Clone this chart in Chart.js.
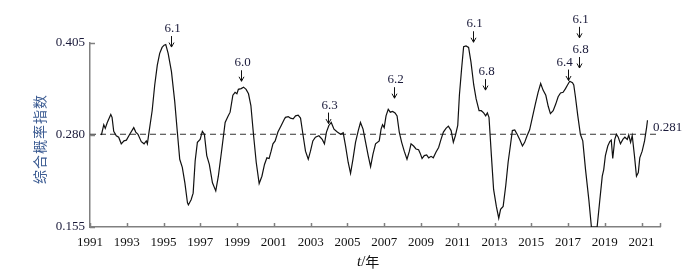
<!DOCTYPE html>
<html>
<head>
<meta charset="utf-8">
<script src="https://cdn.jsdelivr.net/npm/chart.js@4/dist/chart.umd.min.js"></script>
<style>
html,body{margin:0;padding:0;background:#fff;}
#c{display:block;}
</style>
</head>
<body>
<canvas id="c" width="699" height="280"></canvas>
<script>
// ---- data ----
const years = [1991.62,1991.75,1991.83,1991.94,1992.13,1992.20,1992.29,1992.43,1992.56,1992.70,1992.85,1992.98,1993.16,1993.38,1993.49,1993.61,1993.79,1993.94,1994.06,1994.12,1994.21,1994.38,1994.52,1994.66,1994.79,1994.92,1995.03,1995.12,1995.25,1995.43,1995.61,1995.75,1995.88,1996.02,1996.16,1996.30,1996.35,1996.50,1996.61,1996.72,1996.84,1996.99,1997.11,1997.22,1997.35,1997.49,1997.66,1997.84,1997.98,1998.17,1998.35,1998.50,1998.62,1998.77,1998.89,1998.99,1999.07,1999.22,1999.35,1999.49,1999.62,1999.75,1999.89,2000.04,2000.20,2000.35,2000.49,2000.62,2000.74,2000.85,2000.95,2001.07,2001.22,2001.40,2001.58,2001.63,2001.78,2001.90,2002.05,2002.18,2002.32,2002.45,2002.58,2002.72,2002.87,2002.99,2003.12,2003.26,2003.45,2003.63,2003.75,2003.86,2003.99,2004.12,2004.27,2004.45,2004.63,2004.77,2004.90,2005.04,2005.17,2005.30,2005.44,2005.59,2005.71,2005.85,2005.99,2006.13,2006.26,2006.39,2006.53,2006.73,2006.83,2006.91,2007.00,2007.10,2007.22,2007.33,2007.46,2007.59,2007.70,2007.82,2007.95,2008.09,2008.24,2008.37,2008.46,2008.60,2008.73,2008.87,2008.96,2009.06,2009.18,2009.31,2009.42,2009.55,2009.67,2009.82,2009.96,2010.09,2010.22,2010.36,2010.49,2010.64,2010.76,2010.87,2011.00,2011.09,2011.21,2011.32,2011.45,2011.59,2011.72,2011.87,2012.00,2012.16,2012.28,2012.41,2012.52,2012.61,2012.70,2012.83,2012.95,2013.10,2013.23,2013.33,2013.47,2013.61,2013.74,2013.86,2013.97,2014.10,2014.23,2014.37,2014.52,2014.64,2014.77,2014.91,2015.06,2015.22,2015.37,2015.51,2015.64,2015.79,2015.92,2016.04,2016.19,2016.33,2016.46,2016.59,2016.73,2016.86,2016.97,2017.09,2017.24,2017.31,2017.40,2017.53,2017.67,2017.80,2017.95,2018.13,2018.27,2018.58,2018.72,2018.86,2018.94,2019.03,2019.16,2019.27,2019.35,2019.43,2019.54,2019.63,2019.73,2019.85,2019.98,2020.09,2020.22,2020.30,2020.40,2020.49,2020.61,2020.72,2020.82,2020.90,2021.03,2021.16,2021.27,2021.32];
const indexValues = [0.280,0.294,0.289,0.297,0.308,0.304,0.285,0.279,0.277,0.268,0.272,0.273,0.281,0.290,0.284,0.281,0.271,0.268,0.272,0.268,0.284,0.313,0.348,0.375,0.391,0.399,0.402,0.403,0.391,0.366,0.325,0.284,0.247,0.236,0.215,0.188,0.185,0.192,0.201,0.245,0.270,0.274,0.285,0.281,0.252,0.240,0.215,0.204,0.224,0.261,0.297,0.305,0.311,0.334,0.338,0.336,0.342,0.343,0.345,0.342,0.336,0.320,0.281,0.243,0.214,0.224,0.240,0.249,0.248,0.258,0.268,0.272,0.284,0.293,0.302,0.304,0.305,0.303,0.302,0.306,0.307,0.303,0.281,0.258,0.247,0.258,0.272,0.277,0.279,0.274,0.268,0.284,0.293,0.297,0.288,0.284,0.281,0.283,0.265,0.243,0.228,0.247,0.270,0.286,0.297,0.288,0.270,0.252,0.237,0.254,0.268,0.272,0.288,0.294,0.290,0.306,0.315,0.311,0.312,0.310,0.306,0.284,0.270,0.258,0.247,0.258,0.268,0.265,0.261,0.260,0.255,0.248,0.252,0.253,0.249,0.251,0.249,0.257,0.263,0.274,0.284,0.289,0.292,0.286,0.270,0.279,0.293,0.334,0.370,0.400,0.401,0.399,0.379,0.348,0.329,0.313,0.313,0.310,0.306,0.310,0.304,0.252,0.206,0.183,0.167,0.179,0.183,0.211,0.243,0.265,0.286,0.287,0.281,0.274,0.265,0.270,0.279,0.287,0.304,0.322,0.338,0.350,0.341,0.334,0.319,0.309,0.313,0.322,0.332,0.337,0.338,0.343,0.348,0.353,0.351,0.348,0.332,0.306,0.281,0.272,0.233,0.192,0.155,0.155,0.190,0.224,0.233,0.252,0.265,0.271,0.273,0.248,0.274,0.281,0.277,0.268,0.274,0.277,0.274,0.280,0.270,0.279,0.252,0.224,0.229,0.249,0.258,0.272,0.290,0.300];
const threshold = 0.281;
const thresholdLabel = '0.281';
const xTickValues = [1991,1993,1995,1997,1999,2001,2003,2005,2007,2009,2011,2013,2015,2017,2019,2021,2022];
const xTickLabels = ['1991','1993','1995','1997','1999','2001','2003','2005','2007','2009','2011','2013','2015','2017','2019','2021',''];
const yTickValues = [0.155,0.280,0.405];
const yTickLabels = ['0.155','0.280','0.405'];
const markYears = [1995.41,1999.22,2003.96,2007.55,2011.85,2012.50,2016.97,2017.62,2017.62];
const markTips = [0.3995,0.353,0.2955,0.330,0.406,0.341,0.354,0.412,0.371];
const markLabels = ['6.1','6.0','6.3','6.2','6.1','6.8','6.4','6.1','6.8'];
const yTitle = '综合概率指数';
const xMin = 1991, xMax = 2022, yMin = 0.155, yMax = 0.405;

const serif = '"Liberation Serif","Times New Roman",serif';
const axisGray = '#808080';

const extras = {
  id: 'extras',
  afterDraw(chart) {
    const ctx = chart.ctx, xs = chart.scales.x, ys = chart.scales.y, ca = chart.chartArea;
    ctx.save();
    // inward ticks
    ctx.strokeStyle = axisGray; ctx.lineWidth = 1.5;
    xs.ticks.forEach(t => {
      const px = Math.round(xs.getPixelForValue(t.value)) + 0.5;
      ctx.beginPath(); ctx.moveTo(px, ca.bottom); ctx.lineTo(px, ca.bottom - 4); ctx.stroke();
    });
    ys.ticks.forEach(t => {
      const py = Math.round(ys.getPixelForValue(t.value)) + 0.5;
      ctx.beginPath(); ctx.moveTo(ca.left, py); ctx.lineTo(ca.left + 5, py); ctx.stroke();
    });
    // annotations
    ctx.strokeStyle = '#111'; ctx.fillStyle = '#1a1a3a'; ctx.lineWidth = 1;
    ctx.font = '13px ' + serif; ctx.textAlign = 'center'; ctx.textBaseline = 'alphabetic';
    const pxs = markYears.map(yr => xs.getPixelForValue(yr));
    markYears.forEach((yr, i) => {
      const px = Math.round(pxs[i]) + 0.5;
      const py = ys.getPixelForValue(markTips[i]);
      ctx.beginPath(); ctx.moveTo(px, py - 11); ctx.lineTo(px, py); ctx.stroke();
      ctx.beginPath(); ctx.moveTo(px - 2.5, py - 4.5); ctx.lineTo(px, py); ctx.lineTo(px + 2.5, py - 4.5); ctx.stroke();
      // nudge text left when a taller neighbouring arrow sits close on the right
      const crowded = pxs.some((q, j) => j !== i && q - pxs[i] > 0 && q - pxs[i] < 16 && markTips[j] > markTips[i]);
      ctx.fillText(markLabels[i], px + (crowded ? -4 : 1), py - 15);
    });
    // threshold label
    ctx.textAlign = 'left'; ctx.textBaseline = 'middle';
    ctx.fillText(thresholdLabel, xs.getPixelForValue(xMax) - 7, ys.getPixelForValue(threshold) - 7);
    // y title
    ctx.save();
    ctx.translate(40, (ca.top + ca.bottom) / 2 + 4);
    ctx.rotate(-Math.PI / 2);
    ctx.fillStyle = '#3b5b92';
    ctx.font = '14px "Noto Sans CJK SC", sans-serif';
    ctx.textAlign = 'center'; ctx.textBaseline = 'middle';
    try { ctx.letterSpacing = '1px'; } catch (e) {}
    ctx.fillText(yTitle, 0, 0);
    ctx.restore();
    // x title: t/年
    ctx.fillStyle = '#111'; ctx.textBaseline = 'middle'; ctx.textAlign = 'left';
    const cx = (ca.left + ca.right) / 2 - 18, cy = 262;
    ctx.font = 'italic 15px ' + serif;
    const wT = ctx.measureText('t').width;
    ctx.fillText('t', cx, cy);
    ctx.font = '15px ' + serif;
    const wS = ctx.measureText('/').width;
    ctx.fillText('/', cx + wT, cy);
    ctx.font = '14px "Noto Sans CJK SC", sans-serif';
    ctx.fillText('年', cx + wT + wS, cy);
    ctx.restore();
  }
};

new Chart(document.getElementById('c'), {
  type: 'line',
  data: {
    datasets: [
      {
        data: years.map((x, i) => ({x: x, y: indexValues[i]})),
        borderColor: '#111', borderWidth: 1.2, pointRadius: 0, tension: 0, fill: false
      },
      {
        data: [{x: xMin, y: threshold}, {x: xMax, y: threshold}],
        borderColor: '#333', borderWidth: 1, borderDash: [6, 4], pointRadius: 0, fill: false
      }
    ]
  },
  options: {
    responsive: false, animation: false, devicePixelRatio: 1,
    layout: {padding: {top: 43, right: 39, left: 0, bottom: 0}},
    plugins: {legend: {display: false}, tooltip: {enabled: false}},
    scales: {
      x: {
        type: 'linear', min: xMin, max: xMax,
        afterBuildTicks: s => { s.ticks = xTickValues.map(v => ({value: v})); },
        afterFit: s => { s.height = 53; },
        grid: {display: false, drawTicks: false},
        border: {display: true, color: axisGray, width: 1.5},
        ticks: {
          autoSkip: false, maxRotation: 0, padding: 8, color: '#111',
          font: {family: serif, size: 13},
          callback: (v, i) => xTickLabels[i]
        }
      },
      y: {
        min: yMin, max: yMax,
        afterBuildTicks: s => { s.ticks = yTickValues.map(v => ({value: v})); },
        afterFit: s => { s.width = 90; },
        grid: {display: false, drawTicks: false},
        border: {display: true, color: axisGray, width: 1.5},
        ticks: {
          padding: 5, color: '#1a1a3a',
          font: {family: serif, size: 13},
          callback: (v, i) => yTickLabels[i]
        }
      }
    }
  },
  plugins: [extras]
});
</script>
</body>
</html>
